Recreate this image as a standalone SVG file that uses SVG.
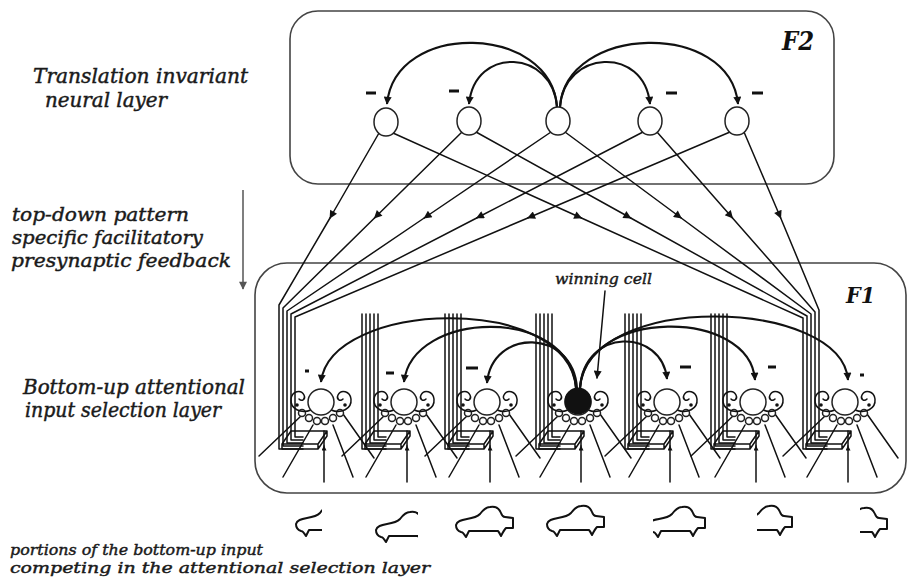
<svg xmlns="http://www.w3.org/2000/svg" xmlns:xlink="http://www.w3.org/1999/xlink" width="909" height="580" viewBox="0 0 909 580">
  <style>
    .box { fill: none; stroke: #444; stroke-width: 1.6; }
    .ln { fill: none; stroke: #111; stroke-width: 1.5; stroke-linejoin: round; stroke-linecap: round; }
    .arc { fill: none; stroke: #111; stroke-width: 2.1; }
    .minus { stroke: #111; stroke-width: 3; }
    .node { fill: #fff; stroke: #222; stroke-width: 1.5; }
    .car { fill: none; stroke: #111; stroke-width: 2; stroke-linejoin: round; stroke-linecap: round; }
    .lbl { font-family: "DejaVu Serif", "Liberation Serif", serif; font-style: italic; fill: #1a1a1a; stroke: #1a1a1a; stroke-width: 0.45; }
    .title { font-family: "DejaVu Serif", "Liberation Serif", serif; font-style: italic; font-weight: bold; fill: #111; }
  </style>
  <defs>
    <marker id="ah" viewBox="0 0 10 10" refX="9" refY="5" markerWidth="10" markerHeight="8" markerUnits="userSpaceOnUse" orient="auto">
      <path d="M0,0 L10,5 L0,10 z" fill="#111"/>
    </marker>
    <marker id="ahs" viewBox="0 0 10 10" refX="9" refY="5" markerWidth="6" markerHeight="5" markerUnits="userSpaceOnUse" orient="auto">
      <path d="M0,0 L10,5 L0,10 z" fill="#111"/>
    </marker>
    <marker id="ahg" viewBox="0 0 10 10" refX="9" refY="5" markerWidth="11" markerHeight="8" markerUnits="userSpaceOnUse" orient="auto">
      <path d="M0,0 L10,5 L0,10 z" fill="#555"/>
    </marker>

    <!-- vertical bundle of five feedback lines on the left of an F1 cell -->
    <path id="bundle" class="ln" d="M-42,314 L-42,449 L-18,449 M-38,314 L-38,446 L-18,446 M-34,314 L-34,443 L-18,443 M-30,314 L-30,440 L-18,440 M-26,314 L-26,437 L-18,437"/>

    <!-- bottom-up input fibres converging on an F1 cell -->
    <g id="inputs">
      <path class="ln" d="M-62,456 L-20,416 M-38,477 L-8,425 M32,477 L12,425 M53,458 L22,414 M3,446 L3,431"/>
      <path class="ln" d="M3,482 L3,446" marker-end="url(#ahs)"/>
    </g>

    <!-- F1 cell: plate, dendrite lobes, synaptic boutons and soma -->
    <g id="cellBody">
      <path class="ln" d="M-30,431 L6,431 L-3,444 L-39,444 Z M-39,444 L-39,449 L-3,449 L6,436 L6,431 M-3,444 L-3,449"/>
      <g class="node" stroke-width="1.3">
        <circle cx="-19" cy="413" r="3.5"/>
        <circle cx="-12" cy="418" r="3.5"/>
        <circle cx="-4" cy="421" r="3.5"/>
        <circle cx="4" cy="421" r="3.5"/>
        <circle cx="12" cy="418" r="3.5"/>
        <circle cx="19" cy="413" r="3.5"/>
      </g>
      <path class="ln" d="M-10,410 C-20,414 -31,409 -30,399 C-29,391 -20,389 -17,395 C-15,399 -19,402 -22,399"/>
      <path class="ln" d="M10,410 C20,414 31,409 30,399 C29,391 20,389 17,395 C15,399 19,402 22,399"/>
      <circle cx="-24" cy="405" r="1.8" fill="#111"/>
      <circle cx="24" cy="405" r="1.8" fill="#111"/>
      <circle class="node" cx="0" cy="402" r="13"/>
    </g>

    <!-- car outline, local origin at front bumper / roof line -->
    <path id="car" class="car" d="M1,19 C2,15 6,14 12,13 C18,12 22,11 25,8 C28,4 31,1 35,1 C40,0 44,2 46,7 C47,10 48,11 50,11 L58,12 L58,22 L51,22 C49,24 48,26 46,30 C45,28 44,26 43,25 L14,25 C13,27 12,29 11,31 C9,28 8,26 6,26 C3,25 1,23 1,19"/>

    <clipPath id="win1"><rect x="280" y="495" width="42" height="50"/></clipPath>
    <clipPath id="win2"><rect x="360" y="495" width="58" height="50"/></clipPath>
    <clipPath id="win3"><rect x="440" y="495" width="74" height="50"/></clipPath>
    <clipPath id="win5"><rect x="653" y="495" width="70" height="50"/></clipPath>
    <clipPath id="win6"><rect x="757" y="495" width="50" height="50"/></clipPath>
    <clipPath id="win7"><rect x="860" y="495" width="45" height="50"/></clipPath>
  </defs>

  <rect width="909" height="580" fill="#fff"/>

  <!-- layer frames -->
  <g id="f2-layer">
    <rect class="box" x="290" y="11" width="544" height="173" rx="28"/>
    <text class="title" x="782" y="50" font-size="26" textLength="32" lengthAdjust="spacingAndGlyphs">F2</text>
  </g>
  <g id="f1-layer">
    <rect class="box" x="255" y="263" width="651" height="230" rx="32"/>
    <text class="title" x="846" y="303" font-size="22" textLength="29" lengthAdjust="spacingAndGlyphs">F1</text>
  </g>

  <g id="connectors">
    <!-- top-down feedback from F2 to the leftmost F1 cell -->
    <path class="ln" d="M379,133 L330,218" marker-end="url(#ah)"/>
    <path class="ln" d="M330,218 L279,305 L279,449 L303,449"/>
    <path class="ln" d="M462,132 L374.5,218" marker-end="url(#ah)"/>
    <path class="ln" d="M374.5,218 L283,308 L283,446 L303,446"/>
    <path class="ln" d="M551,132 L424.2,218" marker-end="url(#ah)"/>
    <path class="ln" d="M424.2,218 L287,311 L287,443 L303,443"/>
    <path class="ln" d="M643,132 L476.7,218" marker-end="url(#ah)"/>
    <path class="ln" d="M476.7,218 L291,314 L291,440 L303,440"/>
    <path class="ln" d="M730,132 L527.8,218" marker-end="url(#ah)"/>
    <path class="ln" d="M527.8,218 L295,317 L295,437 L303,437"/>

    <!-- top-down feedback from F2 to the rightmost F1 cell -->
    <path class="ln" d="M393,133 L581.4,218" marker-end="url(#ah)"/>
    <path class="ln" d="M581.4,218 L803,318 L803,449 L827,449"/>
    <path class="ln" d="M476,132 L630.7,218" marker-end="url(#ah)"/>
    <path class="ln" d="M630.7,218 L807,316 L807,446 L827,446"/>
    <path class="ln" d="M565,132 L681.2,218" marker-end="url(#ah)"/>
    <path class="ln" d="M681.2,218 L811,314 L811,443 L827,443"/>
    <path class="ln" d="M657,132 L732.5,218" marker-end="url(#ah)"/>
    <path class="ln" d="M732.5,218 L815,312 L815,440 L827,440"/>
    <path class="ln" d="M744,132 L780.7,218" marker-end="url(#ah)"/>
    <path class="ln" d="M780.7,218 L819,310 L819,437 L827,437"/>

    <!-- feedback bundles of the inner F1 cells -->
    <use href="#bundle" transform="translate(404,0)"/>
    <use href="#bundle" transform="translate(487,0)"/>
    <use href="#bundle" transform="translate(578,0)"/>
    <use href="#bundle" transform="translate(667,0)"/>
    <use href="#bundle" transform="translate(753,0)"/>

    <!-- bottom-up inputs -->
    <use href="#inputs" transform="translate(321,0)"/>
    <use href="#inputs" transform="translate(404,0)"/>
    <use href="#inputs" transform="translate(487,0)"/>
    <use href="#inputs" transform="translate(578,0)"/>
    <use href="#inputs" transform="translate(667,0)"/>
    <use href="#inputs" transform="translate(753,0)"/>
    <use href="#inputs" transform="translate(845,0)"/>

    <!-- lateral inhibition inside F2 -->
    <path class="arc" d="M557,107 C551,24 395,20 387,104" marker-end="url(#ah)"/>
    <path class="arc" d="M557,107 C553,50 475,45 469,104" marker-end="url(#ah)"/>
    <path class="arc" d="M560,107 C564,50 644,45 650,104" marker-end="url(#ah)"/>
    <path class="arc" d="M560,107 C566,24 730,20 738,104" marker-end="url(#ah)"/>
    <line class="minus" x1="366" y1="93" x2="376" y2="93"/>
    <line class="minus" x1="449" y1="91" x2="459" y2="91"/>
    <line class="minus" x1="666" y1="93" x2="677" y2="93"/>
    <line class="minus" x1="752" y1="93" x2="763" y2="93"/>

    <!-- lateral inhibition from the winning F1 cell -->
    <path class="arc" d="M576,388 C568,292 330,300 321,382" marker-end="url(#ah)"/>
    <path class="arc" d="M576,388 C570,305 412,310 404,382" marker-end="url(#ah)"/>
    <path class="arc" d="M577,388 C573,328 492,328 487,383" marker-end="url(#ah)"/>
    <path class="arc" d="M580,388 C584,327 662,328 667,379" marker-end="url(#ah)"/>
    <path class="arc" d="M580,388 C586,307 750,308 755,380" marker-end="url(#ah)"/>
    <path class="arc" d="M580,388 C588,290 842,298 848,380" marker-end="url(#ah)"/>
    <line class="minus" x1="305" y1="371" x2="309" y2="371" stroke-width="2.5"/>
    <line class="minus" x1="386" y1="373" x2="394" y2="373"/>
    <line class="minus" x1="466" y1="368" x2="478" y2="368" stroke-width="3.5"/>
    <line class="minus" x1="680" y1="367" x2="691" y2="367" stroke-width="3.5"/>
    <line class="minus" x1="768" y1="367" x2="776" y2="367" stroke-width="2.5"/>
    <line class="minus" x1="860" y1="375" x2="864" y2="375" stroke-width="2"/>

    <!-- pointer to the winning cell -->
    <path class="ln" d="M605,291 L597,378" stroke-width="1.3" marker-end="url(#ah)"/>

    <!-- direction of the top-down feedback -->
    <path d="M243,190 L243,289" fill="none" stroke="#555" stroke-width="1.5" marker-end="url(#ahg)"/>
  </g>

  <!-- F2 nodes -->
  <g id="f2-n1"><ellipse class="node" cx="386" cy="122" rx="12" ry="14"/></g>
  <g id="f2-n2"><ellipse class="node" cx="469" cy="121" rx="12" ry="14"/></g>
  <g id="f2-n3"><ellipse class="node" cx="558" cy="121" rx="12" ry="14"/></g>
  <g id="f2-n4"><ellipse class="node" cx="650" cy="121" rx="12" ry="14"/></g>
  <g id="f2-n5"><ellipse class="node" cx="737" cy="121" rx="12" ry="14"/></g>

  <!-- F1 cells -->
  <g id="f1-c1"><use href="#cellBody" transform="translate(321,0)"/></g>
  <g id="f1-c2"><use href="#cellBody" transform="translate(404,0)"/></g>
  <g id="f1-c3"><use href="#cellBody" transform="translate(487,0)"/></g>
  <g id="f1-c4">
    <use href="#cellBody" transform="translate(578,0)"/>
    <circle cx="578" cy="401" r="13.5" fill="#111"/>
  </g>
  <g id="f1-c5"><use href="#cellBody" transform="translate(667,0)"/></g>
  <g id="f1-c6"><use href="#cellBody" transform="translate(753,0)"/></g>
  <g id="f1-c7"><use href="#cellBody" transform="translate(845,0)"/></g>

  <!-- input windows onto the car -->
  <g id="input-patterns">
    <g clip-path="url(#win1)"><use href="#car" x="295" y="505"/></g>
    <g clip-path="url(#win2)"><use href="#car" x="375" y="511"/></g>
    <g clip-path="url(#win3)"><use href="#car" x="455" y="506"/></g>
    <use href="#car" x="546" y="505"/>
    <g clip-path="url(#win5)"><use href="#car" x="647" y="506"/></g>
    <g clip-path="url(#win6)"><use href="#car" x="734" y="505"/></g>
    <g clip-path="url(#win7)"><use href="#car" x="829" y="507"/></g>
  </g>

  <!-- labels -->
  <g id="labels">
    <text class="lbl" x="33" y="83" font-size="20" textLength="215" lengthAdjust="spacingAndGlyphs">Translation invariant</text>
    <text class="lbl" x="45" y="107" font-size="20" textLength="122" lengthAdjust="spacingAndGlyphs">neural layer</text>
    <text class="lbl" x="12" y="221" font-size="19" textLength="177" lengthAdjust="spacingAndGlyphs">top-down pattern</text>
    <text class="lbl" x="12" y="244" font-size="19" textLength="191" lengthAdjust="spacingAndGlyphs">specific facilitatory</text>
    <text class="lbl" x="11" y="267" font-size="19" textLength="220" lengthAdjust="spacingAndGlyphs">presynaptic feedback</text>
    <text class="lbl" x="23" y="394" font-size="20" textLength="222" lengthAdjust="spacingAndGlyphs">Bottom-up attentional</text>
    <text class="lbl" x="25" y="417" font-size="20" textLength="196" lengthAdjust="spacingAndGlyphs">input selection layer</text>
    <text class="lbl" x="555" y="284" font-size="15" textLength="97" lengthAdjust="spacingAndGlyphs" stroke-width="0.3">winning cell</text>
    <text class="lbl" x="10" y="555" font-size="15" textLength="253" lengthAdjust="spacingAndGlyphs">portions of the bottom-up input</text>
    <text class="lbl" x="10" y="573" font-size="15" textLength="420" lengthAdjust="spacingAndGlyphs">competing in the attentional selection layer</text>
  </g>
</svg>
